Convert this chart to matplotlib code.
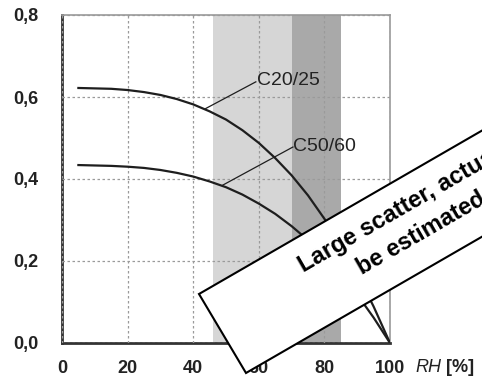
import matplotlib
matplotlib.use("Agg")
import matplotlib.pyplot as plt
from matplotlib.patches import Polygon

plt.rcParams['font.family'] = ['Liberation Sans', 'DejaVu Sans']

# relative humidity [%] and the two curves
rh = [5, 10, 15, 20, 25, 30, 35, 40, 45, 50, 55, 60, 65, 70, 75, 80, 85, 90, 95, 100]
c20_25 = [0.622, 0.621, 0.620, 0.617, 0.612, 0.605, 0.595, 0.582, 0.565, 0.545,
          0.519, 0.488, 0.451, 0.409, 0.360, 0.303, 0.240, 0.169, 0.089, 0.0]
c50_60 = [0.434, 0.433, 0.432, 0.430, 0.427, 0.422, 0.415, 0.406, 0.394, 0.380,
          0.362, 0.340, 0.315, 0.285, 0.251, 0.212, 0.168, 0.118, 0.062, 0.0]

# humidity bands
band_light = (46, 70)
band_dark = (70, 85)

xticks = [0, 20, 40, 60, 80, 100]
yticks = [0.0, 0.2, 0.4, 0.6, 0.8]
ylabels = ['0,0', '0,2', '0,4', '0,6', '0,8']

W, H = 482, 383
fig = plt.figure(figsize=(W / 100, H / 100), dpi=100)
ax = fig.add_axes([62 / W, 1 - 343 / H, 328 / W, 328 / H])

ax.axvspan(*band_light, color='#d6d6d6', lw=0, zorder=0)
ax.axvspan(*band_dark, color='#a9a9a9', lw=0, zorder=0)

ax.plot(rh, c20_25, color='#1e1e1e', lw=1.6, zorder=3)
ax.plot(rh, c50_60, color='#1e1e1e', lw=1.6, zorder=3)

# leader lines + labels
ax.plot([43.6, 59.1], [0.571, 0.637], color='#1e1e1e', lw=0.9, zorder=3)
ax.text(59.3, 0.640, 'C20/25', fontsize=14, color='#222222', va='center', ha='left')
ax.plot([49.0, 70.4], [0.385, 0.478], color='#1e1e1e', lw=0.9, zorder=3)
ax.text(70.5, 0.480, 'C50/60', fontsize=14, color='#222222', va='center', ha='left')

ax.set_xlim(0, 100)
ax.set_ylim(0, 0.8)
ax.set_xticks(xticks)
ax.set_yticks(yticks)
ax.set_xticklabels([str(t) for t in xticks])
ax.set_yticklabels(ylabels)
ax.tick_params(length=0, labelsize=13)
ax.tick_params(axis='y', pad=17)
ax.tick_params(axis='x', pad=12)
for lab in ax.get_xticklabels() + ax.get_yticklabels():
    lab.set_fontweight('bold')
    lab.set_color('#222222')

ax.grid(True, color='#9a9a9a', ls=(0, (2, 2)), lw=0.9, zorder=1)
ax.set_axisbelow(False)
for s in ['left', 'bottom']:
    ax.spines[s].set_color('#333333')
    ax.spines[s].set_linewidth(2.0)
for s in ['top', 'right']:
    ax.spines[s].set_color('#999999')
    ax.spines[s].set_linewidth(1.2)

fig.text(415 / W, 1 - 368 / H, 'RH', fontsize=13, style='italic', va='center', ha='left', color='#222222')
fig.text(446 / W, 1 - 368 / H, '[%]', fontsize=13, fontweight='bold', va='center', ha='left', color='#222222')

# rotated note box running off the right edge
def px(x, y):
    return (x / W, 1 - y / H)

box = Polygon([px(199, 294), px(246, 373), px(246 + 400, 373 - 231), px(199 + 400, 294 - 231)],
              closed=True, transform=fig.transFigure, facecolor='white', edgecolor='black',
              lw=1.5, zorder=10)
fig.patches.append(box)
fig.text(*px(303, 273), 'Large scatter, actual values must', fontsize=17, fontweight='bold',
         rotation=30, rotation_mode='anchor', ha='left', va='baseline', zorder=11)
fig.text(*px(362, 275), 'be estimated', fontsize=17, fontweight='bold',
         rotation=30, rotation_mode='anchor', ha='left', va='baseline', zorder=11)

fig.savefig('out.png', dpi=100)
